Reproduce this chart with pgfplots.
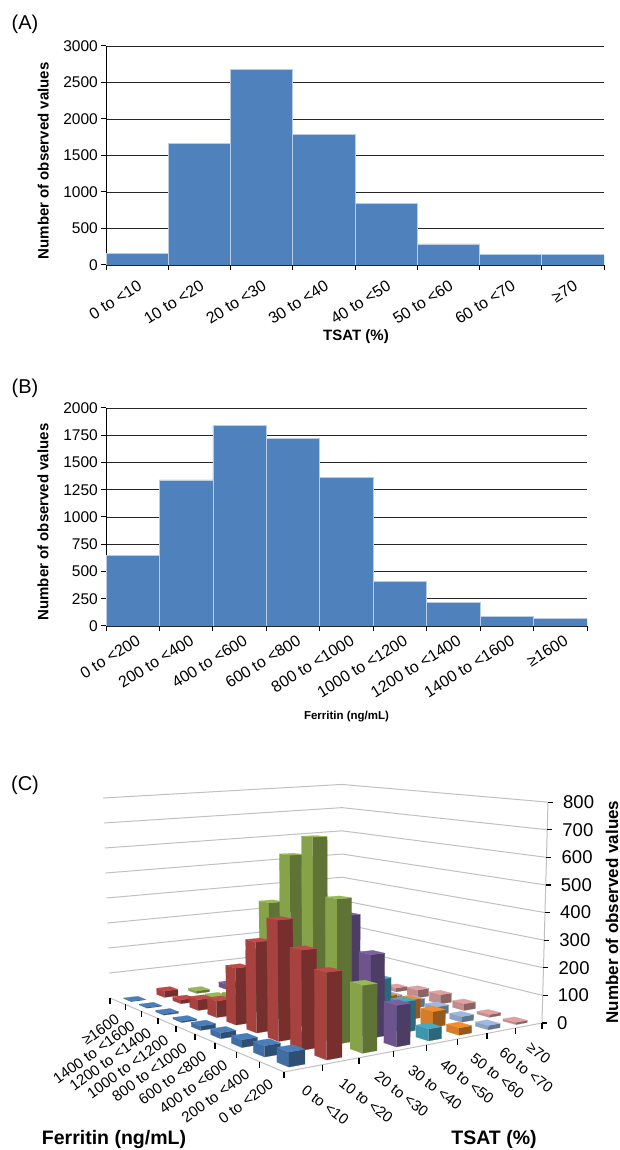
\documentclass[border=0pt]{standalone}
\usepackage{fontspec}
\setmainfont{Liberation Sans}
\usepackage{pgfplots}
\usepackage{pgfplotstable}
\pgfplotsset{compat=1.18}

\newcommand\fs{\fontsize{15.5}{18}\selectfont}
\newcommand\fx{\fontsize{16}{18}\selectfont}
\newcommand\fl{\fontsize{15}{17}\selectfont\bfseries}
\newcommand\fn{\fontsize{11.5}{14}\selectfont\bfseries}
\newcommand\fb{\fontsize{19.5}{22}\selectfont\bfseries}
\newcommand\fz{\fontsize{18.5}{20}\selectfont}
\newcommand\fc{\fontsize{15}{18}\selectfont}
\newcommand\fp{\fontsize{20}{22}\selectfont}

\definecolor{barblue}{HTML}{4F81BD}
\definecolor{s0}{HTML}{4A7EBB}
\definecolor{s1}{HTML}{BE4B48}
\definecolor{s2}{HTML}{98B954}
\definecolor{s3}{HTML}{7D60A0}
\definecolor{s4}{HTML}{46AAC5}
\definecolor{s5}{HTML}{F38E2F}
\definecolor{s6}{HTML}{9DB9E0}
\definecolor{s7}{HTML}{DFA0A0}
\definecolor{wall}{HTML}{C0C0C0}

\pgfplotsset{hist/.style={
  scale only axis, anchor=south west,
  ybar interval, xmin=0, ymin=0,
  axis x line*=bottom, axis y line*=left,
  axis line style={black,line width=1pt,-},
  tick style={black,line width=1pt},
  tick align=outside, major tick length=5pt,
  xtick pos=bottom, ytick pos=left,
  ymajorgrids, xmajorgrids=false,
  grid style={black!85,line width=0.7pt},
  /pgf/number format/assume math mode=true,
  /pgf/number format/1000 sep={},
  scaled y ticks=false,
  yticklabel style={font=\fs,inner sep=3pt},
  xticklabel style={font=\fx,rotate=32,anchor=north east,inner sep=1pt},
  label style={font=\fl},
}}

% counts, one row per ferritin class, one column per TSAT class
\pgfplotstableread{
t0  t1  t2  t3  t4  t5 t6 t7
45  270 215 135 40  25 15 8
35  320 475 280 105 55 20 10
25  400 670 395 160 70 30 25
20  310 600 330 180 60 30 35
15  200 420 200 130 40 20 30
5   60  80  80  60  20 10 15
5   40  40  40  30  10 5  10
3   15  10  15  10  5  5  5
2   25  10  20  10  5  5  2
}\counts

% panel C projection: u = TSAT class, v = ferritin class, h = count; gives \rx,\ry in picture pixels
\newcommand\proj[3]{%
  \pgfmathsetmacro\pS{(#1)/8}%
  \pgfmathsetmacro\pT{(#2)/9}%
  \pgfmathsetmacro\pW{1+0.2316*\pS+0.3118*\pT}%
  \pgfmathsetmacro\pX{(383.5*\pS-139.7*\pT+284)/\pW}%
  \pgfmathsetmacro\pY{(187.9*\pS+237.2*\pT+1072)/\pW}%
  \pgfmathsetmacro\rx{\pX+(\pX-342)*0.03*(#3)/800}%
  \pgfmathsetmacro\ry{\pY-(0.34-0.012*\pT+0.03*\pS*\pT)*(#3)/\pW}%
}
\newcommand\pushpt[3]{\proj{#1}{#2}{#3}\edef\plist{\plist (\rx,\ry)}}
\newcommand\face[1]{%
  \edef\tmp{\noexpand\addplot[fill=#1,draw=#1,line width=0.2pt,forget plot] coordinates {\plist};}\tmp}
\newcommand\stroke[2]{%
  \edef\tmp{\noexpand\addplot[#1,line width=#2,forget plot] coordinates {\plist};}\tmp}

\begin{document}
\begin{tikzpicture}[x=1pt,y=1pt]
\path[use as bounding box] (0,0) rectangle (620,1150);

% panel A
\begin{axis}[hist, at={(106pt,885pt)}, width=498pt, height=219pt,
  xmax=8, ymax=3000, ytick distance=500,
  xtick={0,...,8},
  xticklabels={0 to <10,10 to <20,20 to <30,30 to <40,40 to <50,50 to <60,60 to <70,≥70},
  xticklabel style={xshift=-4pt,yshift=-7pt},
  xlabel={TSAT (\%)}, ylabel={Number of observed values},
  xlabel style={at={(rel axis cs:0.502,-0.329)},anchor=center},
  ylabel style={at={(rel axis cs:-0.126,0.475)},anchor=center}]
\addplot[fill=barblue,draw=barblue!40!white,line width=0.6pt] coordinates {
  (0,155) (1,1670) (2,2680) (3,1790) (4,840) (5,290) (6,140) (7,140) (8,140)};
\end{axis}

% panel B
\begin{axis}[hist, at={(106pt,524pt)}, width=481pt, height=218pt,
  xmax=9, ymax=2000, ytick distance=250,
  xtick={0,...,9},
  xticklabels={0 to <200,200 to <400,400 to <600,600 to <800,800 to <1000,1000 to <1200,1200 to <1400,1400 to <1600,≥1600},
  xticklabel style={xshift=2pt,yshift=-3pt},
  xlabel={Ferritin (ng/mL)}, ylabel={Number of observed values},
  xlabel style={font=\fn,at={(rel axis cs:0.5,-0.417)},anchor=center},
  ylabel style={at={(rel axis cs:-0.131,0.477)},anchor=center}]
\addplot[fill=barblue,draw=barblue!40!white,line width=0.6pt] coordinates {
  (0,650) (1,1340) (2,1840) (3,1720) (4,1360) (5,410) (6,220) (7,90) (8,70) (9,70)};
\end{axis}

% panel C, on an axis in picture pixels
\begin{axis}[at={(0pt,0pt)}, anchor=south west, scale only axis,
  width=620pt, height=1150pt, xmin=0, xmax=620, ymin=0, ymax=1150,
  y dir=reverse, hide axis, clip=false]

\node[font=\fp,anchor=center] at (axis cs:25,24) {(A)};
\node[font=\fp,anchor=center] at (axis cs:25,388) {(B)};
\node[font=\fp,anchor=center] at (axis cs:25,785) {(C)};

% walls
\foreach \h in {100,200,...,800} {
  \def\plist{}\pushpt{0}{9}{\h}\pushpt{8}{9}{\h}\pushpt{8}{0}{\h}
  \stroke{wall}{1pt}
}
\def\plist{}\pushpt{0}{9}{0}\pushpt{0}{0}{0}\pushpt{8}{0}{0}
\stroke{wall}{1pt}
\def\plist{}\pushpt{8}{0}{0}\pushpt{8}{0}{800}
\stroke{wall}{1pt}

% ticks
\foreach \v in {0,...,9} {
  \proj{0}{\v}{0}
  \pgfmathsetmacro\yy{\ry+6}
  \edef\plist{(\rx,\ry) (\rx,\yy)}
  \stroke{black}{1.2pt}
}
\foreach \u in {1,...,8} {
  \proj{\u}{0}{0}
  \pgfmathsetmacro\yy{\ry+6}
  \edef\plist{(\rx,\ry) (\rx,\yy)}
  \stroke{black}{1.2pt}
}
\foreach \h in {0,100,...,800} {
  \proj{8}{0}{\h}
  \pgfmathsetmacro\xx{\rx+5}
  \pgfmathsetmacro\xl{\rx+15}
  \edef\plist{(\rx,\ry) (\xx,\ry)}
  \stroke{black}{1.2pt}
  \edef\tmp{\noexpand\node[font=\noexpand\fz,anchor=west,inner sep=0pt] at (axis cs:\xl,\ry) {\h};}\tmp
}

% bars, back to front
\foreach \u in {7,...,0} {
  \foreach \v in {8,...,0} {
    \pgfplotstablegetelem{\v}{t\u}\of\counts
    \let\val\pgfplotsretval
    \pgfmathsetmacro\ua{\u+0.5-0.21}
    \pgfmathsetmacro\ub{\u+0.5+0.21}
    \pgfmathsetmacro\va{\v+0.5-0.24}
    \pgfmathsetmacro\vb{\v+0.5+0.24}
    \def\plist{}\pushpt{\ua}{\va}{0}\pushpt{\ua}{\vb}{0}\pushpt{\ua}{\vb}{\val}\pushpt{\ua}{\va}{\val}
    \face{s\u!88!black}
    \def\plist{}\pushpt{\ua}{\va}{0}\pushpt{\ub}{\va}{0}\pushpt{\ub}{\va}{\val}\pushpt{\ua}{\va}{\val}
    \face{s\u!62!black}
    \def\plist{}\pushpt{\ua}{\va}{\val}\pushpt{\ub}{\va}{\val}\pushpt{\ub}{\vb}{\val}\pushpt{\ua}{\vb}{\val}
    \face{s\u}
  }
}

% category labels
\foreach \v/\lab in {0/0 to <200,1/200 to <400,2/400 to <600,3/600 to <800,4/800 to <1000,5/1000 to <1200,6/1200 to <1400,7/1400 to <1600,8/≥1600} {
  \proj{0}{\v+0.5}{0}
  \pgfmathsetmacro\yy{\ry+16}
  \edef\tmp{\noexpand\node[font=\noexpand\fc,rotate=36,anchor=east,inner sep=0pt] at (axis cs:\rx,\yy) {\lab};}\tmp
}
\foreach \u/\lab in {0/0 to <10,1/10 to <20,2/20 to <30,3/30 to <40,4/40 to <50,5/50 to <60,6/60 to <70,7/≥70} {
  \proj{\u+0.5}{0}{0}
  \pgfmathsetmacro\yy{\ry+20}
  \edef\tmp{\noexpand\node[font=\noexpand\fc,rotate=-38,anchor=west,inner sep=0pt] at (axis cs:\rx,\yy) {\lab};}\tmp
}

\node[font=\fb,anchor=center] at (axis cs:114,1139) {Ferritin (ng/mL)};
\node[font=\fb,anchor=center] at (axis cs:494,1139) {TSAT (\%)};
\node[font=\fontsize{17}{20}\selectfont\bfseries,rotate=90,anchor=center] at (axis cs:612,912) {Number of observed values};
\end{axis}
\end{tikzpicture}
\end{document}
